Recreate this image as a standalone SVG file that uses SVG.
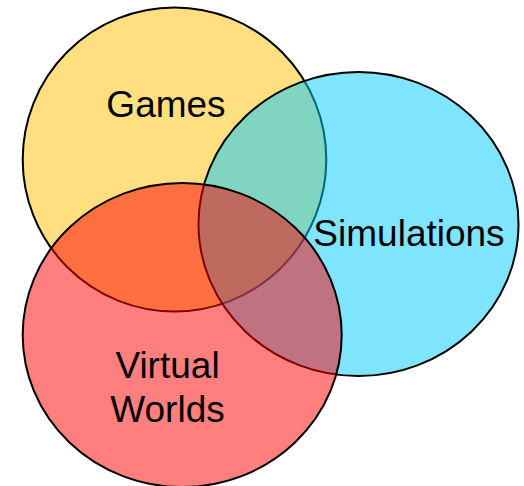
<svg xmlns="http://www.w3.org/2000/svg" width="524" height="486" viewBox="0 0 524 486">
  <style>
    .set { stroke: #000; stroke-width: 2; fill-opacity: 0.5; }
    .label { font-family: "Liberation Sans", Arial, sans-serif; font-size: 37px; fill: #000; text-anchor: middle; }
  </style>
  <rect width="524" height="486" fill="#fff"/>
  <!-- Three overlapping sets, drawn back to front -->
  <g id="games">
    <ellipse class="set" cx="174.5" cy="159.5" rx="151.8" ry="152" fill="#FFC000"/>
    <text class="label" x="166" y="117">Games</text>
  </g>
  <g id="simulations">
    <ellipse class="set" cx="358.5" cy="224" rx="160" ry="152" fill="#00CCFF"/>
    <text class="label" x="409" y="246">Simulations</text>
  </g>
  <g id="virtual-worlds">
    <ellipse class="set" cx="182.2" cy="335" rx="159.5" ry="152" fill="#FF0000"/>
    <text class="label" x="167.5" y="378">Virtual</text>
    <text class="label" x="167.5" y="422">Worlds</text>
  </g>
  <g id="connectors"/>
</svg>
